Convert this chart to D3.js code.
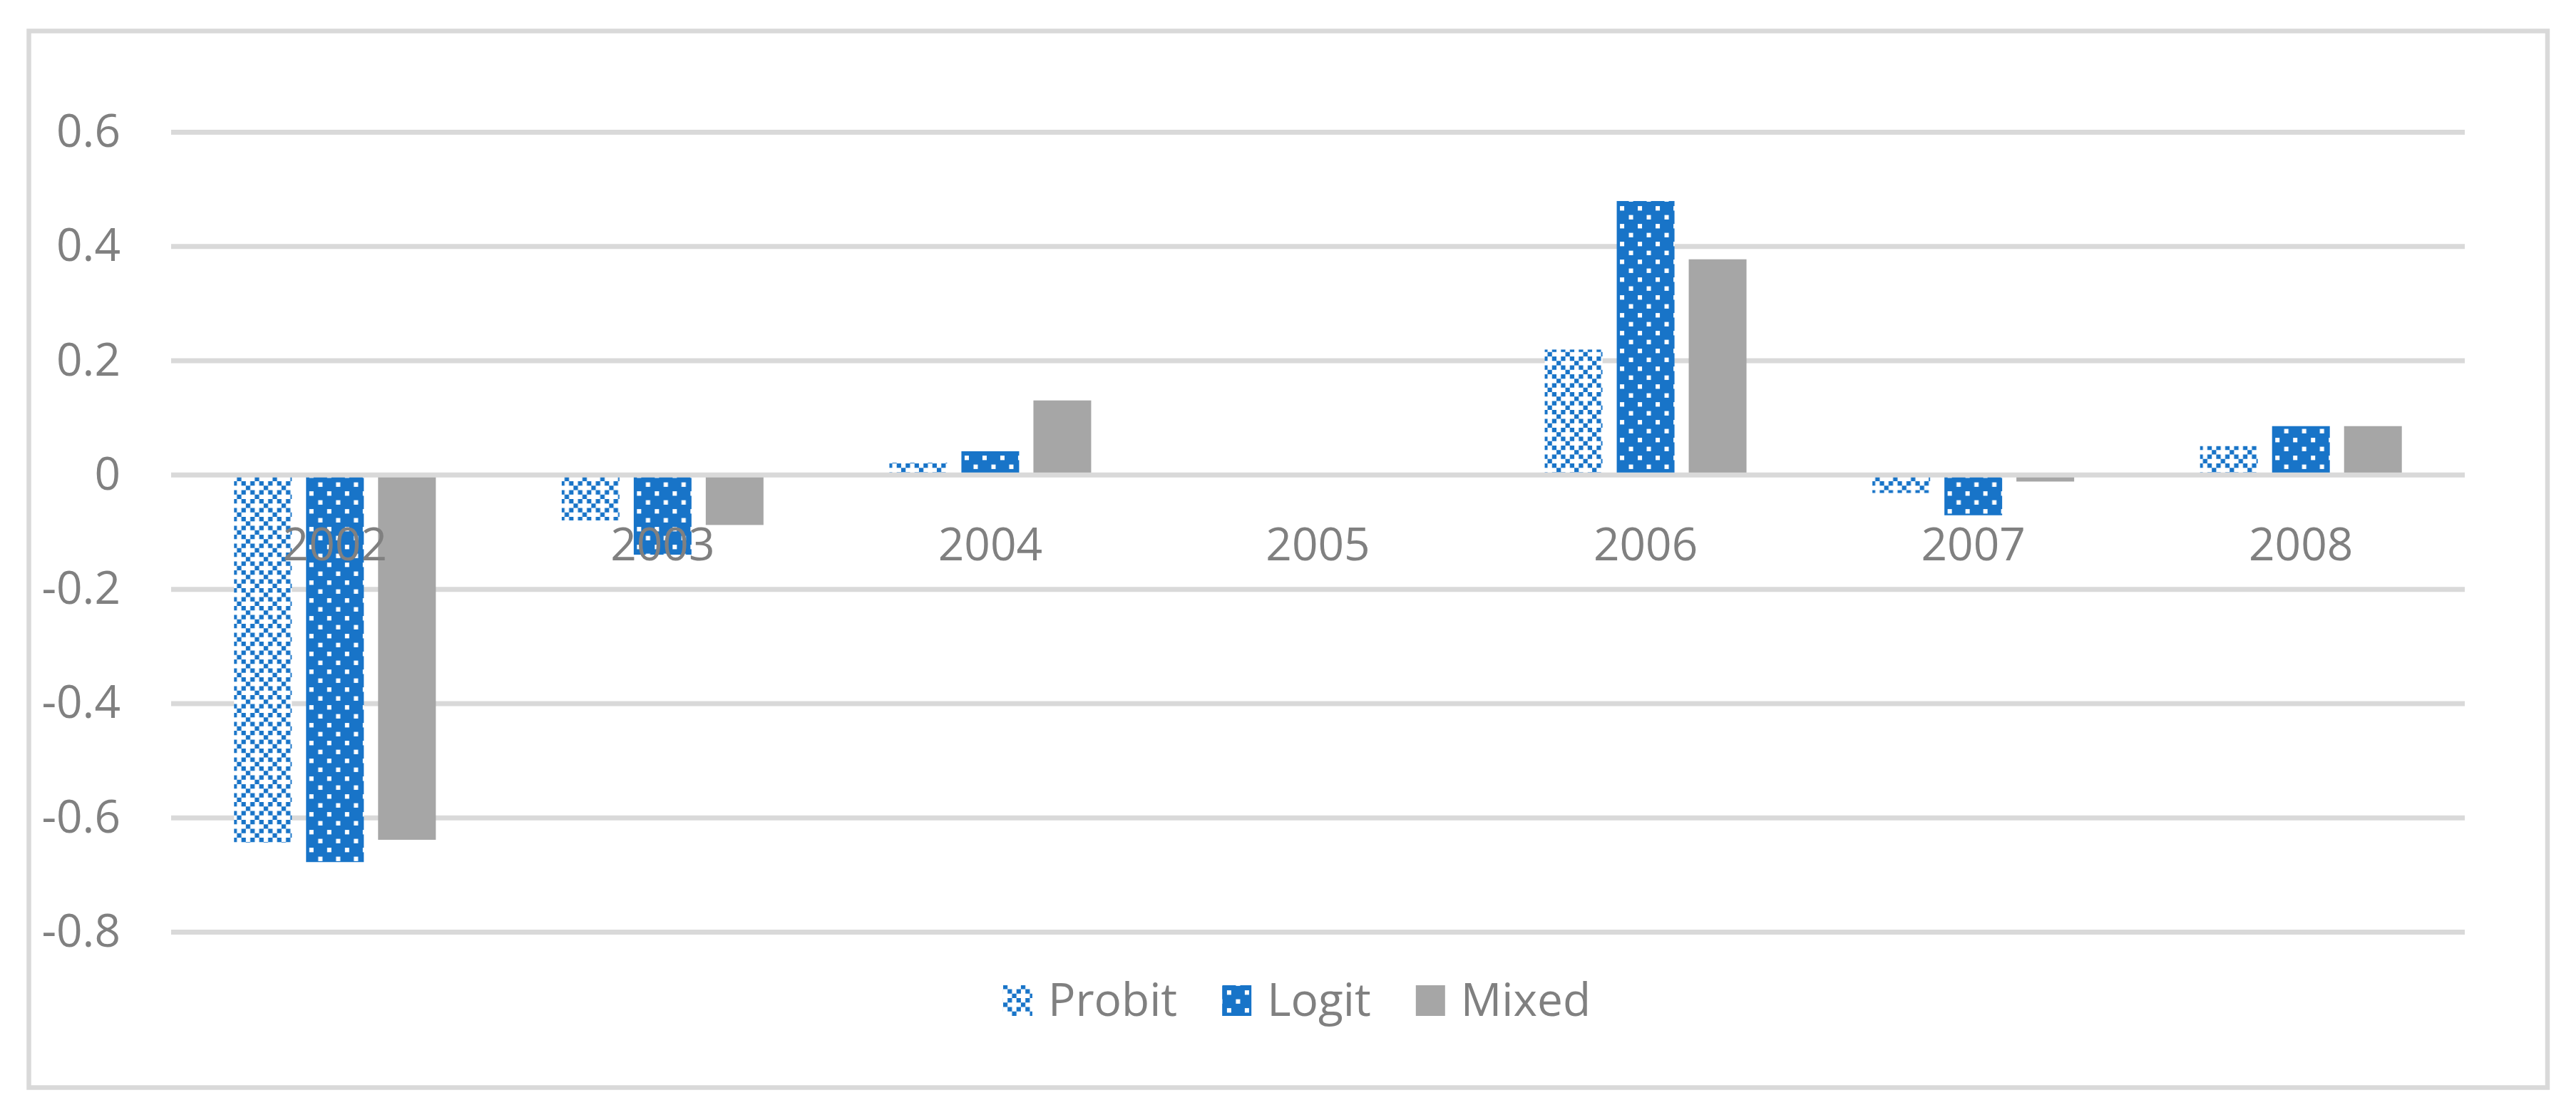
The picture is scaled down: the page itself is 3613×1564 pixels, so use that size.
<!DOCTYPE html>
<html>
<head>
<meta charset="utf-8">
<script src="https://cdn.jsdelivr.net/npm/d3@7"></script>
<style>
  html, body { margin: 0; padding: 0; background: #ffffff; }
  svg { display: block; }
  text { font-family: "Open Sans", "Noto Sans", sans-serif; }
</style>
</head>
<body>
<svg id="chart" width="3613" height="1564"></svg>
<script>
// ---------- data ----------
const categories = ["2002", "2003", "2004", "2005", "2006", "2007", "2008"];
const seriesNames = ["Probit", "Logit", "Mixed"];
const probit = [-0.644, -0.080, 0.021, 0, 0.219, -0.032, 0.050];
const logit  = [-0.678, -0.140, 0.041, 0, 0.479, -0.071, 0.085];
const mixed  = [-0.639, -0.088, 0.130, 0, 0.377, -0.012, 0.085];
const yTicks = [-0.8, -0.6, -0.4, -0.2, 0, 0.2, 0.4, 0.6];

const seriesValues = { Probit: probit, Logit: logit, Mixed: mixed };

// ---------- layout ----------
const W = 3613, H = 1564;
const plotLeft = 240, plotRight = 3457;
const yTop = 185, yBottom = 1307;
const BLUE = "#1874C8", GREY = "#A6A6A6", GRID = "#D9D9D9", TEXT = "#808080";
const FONT = 64;

const svg = d3.select("#chart");
svg.append("rect").attr("width", W).attr("height", H).attr("fill", "#ffffff");

// ---------- patterns ----------
const defs = svg.append("defs");
const u = 6.25, tile = 25;
const pProbit = defs.append("pattern").attr("id", "pat-probit")
  .attr("patternUnits", "userSpaceOnUse").attr("width", tile).attr("height", tile);
pProbit.append("rect").attr("width", tile).attr("height", tile).attr("fill", "#ffffff");
const probitCells = [[0,1],[0,3],[1,0],[2,1],[2,3],[3,2]];
probitCells.forEach(([r, c]) => {
  pProbit.append("rect").attr("x", c * u).attr("y", r * u)
    .attr("width", u).attr("height", u).attr("fill", BLUE);
});
const pLogit = defs.append("pattern").attr("id", "pat-logit")
  .attr("patternUnits", "userSpaceOnUse").attr("width", tile).attr("height", tile);
pLogit.append("rect").attr("width", tile).attr("height", tile).attr("fill", BLUE);
[[1.5, 1.6], [14, 14.1]].forEach(([x, y]) => {
  pLogit.append("rect").attr("x", x).attr("y", y).attr("width", 6).attr("height", 6.3).attr("fill", "#ffffff");
});
const fills = { Probit: "url(#pat-probit)", Logit: "url(#pat-logit)", Mixed: GREY };

// ---------- scales ----------
const x0 = d3.scaleBand().domain(categories).range([plotLeft, plotRight]).padding(0);
const x1 = d3.scaleBand().domain(seriesNames).range([-141.5, 141.5]).paddingInner(20 / 101).paddingOuter(0);
const y = d3.scaleLinear().domain([-0.8, 0.6]).range([yBottom, yTop]);

// ---------- frame ----------
svg.append("rect").attr("x", 40.5).attr("y", 43.5).attr("width", 3532.5).attr("height", 1482)
  .attr("fill", "none").attr("stroke", GRID).attr("stroke-width", 6.5);

// ---------- gridlines (non-zero) ----------
const grid = svg.append("g").attr("class", "grid")
  .attr("transform", `translate(${plotLeft},0)`)
  .call(d3.axisLeft(y).tickValues(yTicks.filter(d => d !== 0)).tickSize(-(plotRight - plotLeft)).tickFormat(""));
grid.select(".domain").remove();
grid.selectAll("line").attr("stroke", GRID).attr("stroke-width", 7);

// ---------- bars ----------
const groups = svg.append("g").selectAll("g").data(categories).join("g")
  .attr("transform", d => `translate(${x0(d) + x0.bandwidth() / 2},0)`);
groups.selectAll("rect")
  .data((cat, i) => seriesNames.map(s => ({ s, v: seriesValues[s][i] })))
  .join("rect")
  .attr("x", d => x1(d.s))
  .attr("width", x1.bandwidth())
  .attr("y", d => y(Math.max(0, d.v)))
  .attr("height", d => Math.abs(y(d.v) - y(0)))
  .attr("fill", d => fills[d.s]);

// ---------- zero line on top ----------
const zero = svg.append("g").attr("transform", `translate(${plotLeft},0)`)
  .call(d3.axisLeft(y).tickValues([0]).tickSize(-(plotRight - plotLeft)).tickFormat(""));
zero.select(".domain").remove();
zero.selectAll("line").attr("stroke", GRID).attr("stroke-width", 7);

// ---------- y tick labels ----------
const yAxis = svg.append("g").attr("transform", `translate(${plotLeft},0)`)
  .call(d3.axisLeft(y).tickValues(yTicks).tickSize(0).tickPadding(71).tickFormat(d => String(d)));
yAxis.select(".domain").remove();
yAxis.selectAll("text").attr("fill", TEXT).style("font-size", FONT + "px")
  .style("font-family", '"Open Sans", sans-serif');

// ---------- category labels ----------
const xAxis = svg.append("g").attr("transform", `translate(0,${y(0)})`)
  .call(d3.axisBottom(x0).tickSize(0).tickPadding(74.5));
xAxis.select(".domain").remove();
xAxis.selectAll("text").attr("fill", TEXT).style("font-size", FONT + "px")
  .style("font-family", '"Open Sans", sans-serif');

// ---------- legend ----------
const legend = svg.append("g");
const swW = 41, swH = 43, swGap = 22, itemGap = 63, legBase = 1425;
let cx = 0;
const items = [];
seriesNames.forEach(s => {
  const g = legend.append("g");
  g.append("rect").attr("x", cx).attr("y", legBase - swH).attr("width", swW).attr("height", swH)
    .attr("fill", fills[s]);
  const t = g.append("text").attr("x", cx + swW + swGap).attr("y", legBase)
    .attr("fill", TEXT).style("font-size", FONT + "px").text(s);
  cx += swW + swGap + t.node().getComputedTextLength() + itemGap;
});
const legW = cx - itemGap;
legend.attr("transform", `translate(${1819 - legW / 2},0)`);
</script>
</body>
</html>
